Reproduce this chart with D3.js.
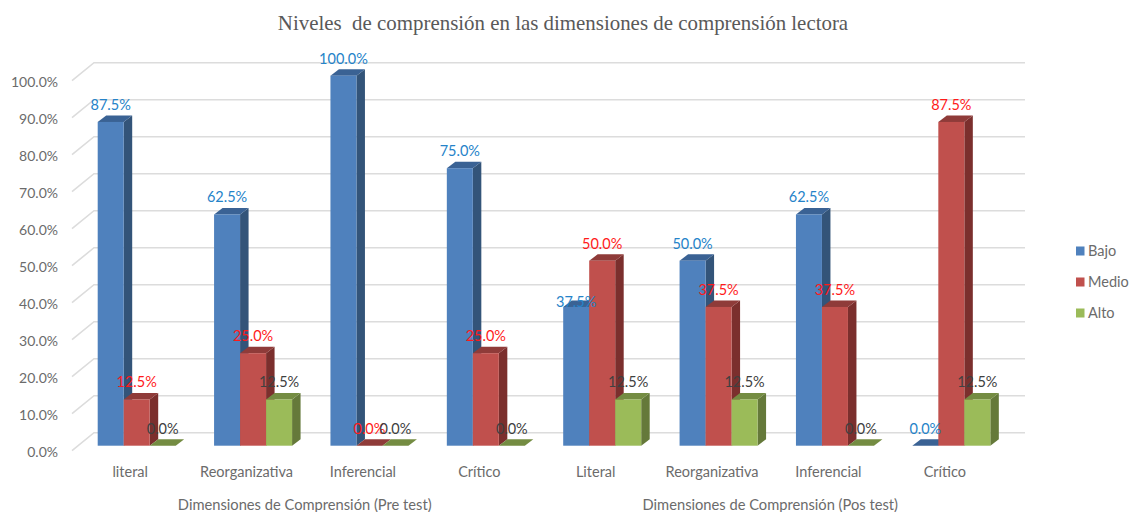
<!DOCTYPE html>
<html>
<head>
<meta charset="utf-8">
<script src="https://d3js.org/d3.v7.min.js"></script>
<style>
  body { margin: 0; background: #fff; }
  svg { display: block; }
  text { font-family: Lato, "Open Sans", sans-serif; }
</style>
</head>
<body>
<div id="chart"></div>
<script>
const categories = ["literal", "Reorganizativa", "Inferencial", "Crítico", "Literal", "Reorganizativa", "Inferencial", "Crítico"];
const groupTitles = ["Dimensiones de Comprensión (Pre test)", "Dimensiones de Comprensión (Pos test)"];
const seriesNames = ["Bajo", "Medio", "Alto"];
const bajo = [0.875, 0.625, 1, 0.75, 0.375, 0.5, 0.625, 0];
const medio = [0.125, 0.25, 0, 0.25, 0.5, 0.375, 0.375, 0.875];
const alto = [0, 0.125, 0, 0, 0.125, 0.125, 0, 0.125];
const yTicks = [0, 0.1, 0.2, 0.3, 0.4, 0.5, 0.6, 0.7, 0.8, 0.9, 1];

const width = 1131;
const height = 512;

const seriesValues = [bajo, medio, alto];
const faceColors = ["#4f81bd", "#c0504d", "#9bbb59"];
const sideColors = ["#335479", "#7b2f2d", "#65793a"];
const topColors = ["#3a6294", "#8f3b39", "#748c42"];
const labelColors = ["#2583c9", "#ff1a1a", "#404040"];
const textGrey = "#6b6b6b";

// 3d offsets: wall behind the plot, and bar position/depth on the floor
const wall = { dx: 22, dy: 18 };
const barInset = { dx: 0, dy: 5 };
const barDepth = { dx: 8.5, dy: 6.5 };

const x = d3.scaleBand().domain(d3.range(categories.length)).range([72, 1003]);
const xSeries = d3.scaleBand().domain(d3.range(seriesNames.length)).range([25.7, 103.7]);
const y = d3.scaleLinear().domain([0, 1]).range([450.7, 80.7]);
const pct = d3.format(".1%");

const svg = d3.select("#chart").append("svg")
  .attr("width", width)
  .attr("height", height);

svg.append("text")
  .attr("x", 563)
  .attr("y", 30)
  .attr("text-anchor", "middle")
  .attr("font-size", "20.9px")
  .attr("fill", "#595959")
  .style("font-family", "'Liberation Serif', serif")
  .style("white-space", "pre")
  .text("Niveles  de comprensión en las dimensiones de comprensión lectora");

// Gridlines on the back wall plus the diagonal on the side wall
const grid = svg.append("g")
  .attr("stroke", "#dcdcdc")
  .attr("stroke-width", 1.6)
  .attr("fill", "none");

yTicks.forEach(t => {
  grid.append("path")
    .attr("d", d3.line()([
      [x.range()[0], y(t)],
      [x.range()[0] + wall.dx, y(t) - wall.dy],
      [x.range()[1] + wall.dx, y(t) - wall.dy]
    ]));
});

// Axes
svg.append("g")
  .attr("transform", `translate(${x.range()[0]},0)`)
  .call(d3.axisLeft(y).tickValues(yTicks).tickFormat(pct).tickSize(0).tickPadding(14))
  .call(g => g.select(".domain").remove())
  .call(g => g.selectAll("text")
    .attr("y", 1.5)
    .attr("font-size", "14px")
    .attr("fill", textGrey)
    .style("font-family", "Lato, sans-serif"));

svg.append("g")
  .attr("transform", `translate(0,${y(0)})`)
  .call(d3.axisBottom(x).tickFormat(i => categories[i]).tickSize(0).tickPadding(16))
  .call(g => g.select(".domain").remove())
  .call(g => g.selectAll("text")
    .attr("font-size", "14.5px")
    .attr("fill", textGrey)
    .style("font-family", "Lato, sans-serif"));

// Group titles under the two sets of four categories
groupTitles.forEach((title, i) => {
  svg.append("text")
    .attr("x", x(i * 4 + 2))
    .attr("y", 510)
    .attr("text-anchor", "middle")
    .attr("font-size", "14.7px")
    .attr("fill", textGrey)
    .text(title);
});

// Bars
const barsLayer = svg.append("g");
const labelsLayer = svg.append("g");

categories.forEach((cat, ci) => {
  seriesNames.forEach((name, si) => {
    const val = seriesValues[si][ci];
    const x0 = x(ci) + xSeries(si);
    const x1 = x0 + xSeries.bandwidth();
    const base = y(0) - barInset.dy;
    const top = y(val) - barInset.dy;

    barsLayer.append("polygon")
      .attr("points", [[x1, top], [x1, base], [x1 + barDepth.dx, base - barDepth.dy], [x1 + barDepth.dx, top - barDepth.dy]].join(" "))
      .attr("fill", sideColors[si]);

    barsLayer.append("polygon")
      .attr("points", [[x0, top], [x1, top], [x1 + barDepth.dx, top - barDepth.dy], [x0 + barDepth.dx, top - barDepth.dy]].join(" "))
      .attr("fill", topColors[si]);

    barsLayer.append("rect")
      .attr("x", x0)
      .attr("y", top)
      .attr("width", xSeries.bandwidth())
      .attr("height", base - top)
      .attr("fill", faceColors[si]);

    // Value label (the blue Literal one sits right on its bar in the original)
    const lowLabel = si === 0 && ci === 4;
    labelsLayer.append("text")
      .attr("x", (x0 + x1) / 2)
      .attr("y", lowLabel ? top + 0.5 : top - 12)
      .attr("text-anchor", "middle")
      .attr("font-size", "14.5px")
      .attr("fill", labelColors[si])
      .text(pct(val));
  });
});

// Legend
const legendY = d3.scalePoint().domain(seriesNames).range([251, 313]);
seriesNames.forEach((name, i) => {
  svg.append("rect")
    .attr("x", 1076)
    .attr("y", legendY(name) - 4.5)
    .attr("width", 8.5)
    .attr("height", 9)
    .attr("fill", faceColors[i]);

  svg.append("text")
    .attr("x", 1088)
    .attr("y", legendY(name) + 5)
    .attr("font-size", "14.5px")
    .attr("fill", textGrey)
    .text(name);
});
</script>
</body>
</html>
